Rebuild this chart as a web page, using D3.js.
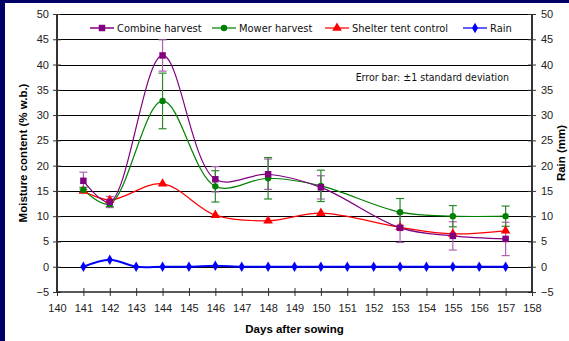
<!DOCTYPE html>
<html><head><meta charset="utf-8">
<script src="https://cdn.jsdelivr.net/npm/d3@7"></script>
<style>body{margin:0;background:#000066;} svg{display:block;}</style>
</head><body>
<svg id="c" width="569" height="341"></svg>
<script>
const harvestDays = [141,142,144,146,148,150,153,155,157];
const combine = [17.0,12.8,41.8,17.3,18.3,15.7,7.7,6.1,5.5];
const combineSD = [1.7,1.1,3.1,2.5,3.0,2.3,2.9,2.8,3.3];
const mower = [15.2,12.4,32.8,15.9,17.5,16.0,10.8,10.0,10.0];
const mowerSD = [0.5,0.5,5.5,3.1,4.1,3.1,2.7,2.1,2.0];
const shelter = [15.0,13.2,16.4,10.2,9.1,10.6,7.8,6.5,7.1];
const rainDays = [141,142,143,144,145,146,147,148,149,150,151,152,153,154,155,156,157];
const rain = [0,1.4,0,0,0,0.2,0,0,0,0,0,0,0,0,0,0,0];
const yTicks = [-5,0,5,10,15,20,25,30,35,40,45,50];
const xTicks = [140,141,142,143,144,145,146,147,148,149,150,151,152,153,154,155,156,157,158];

const svg = d3.select("#c");
svg.append("rect").attr("x",5).attr("y",3).attr("width",564).attr("height",338).attr("fill","#fff");

const L=57,R=532,T=14,B=292;
const x = d3.scaleLinear().domain([140,158]).range([L,R]);
const y = d3.scaleLinear().domain([-5,50]).range([B,T]);
const y2 = d3.scaleLinear().domain([-5,50]).range([B,T]);

// gridlines
svg.append("g").selectAll("line").data(yTicks.filter(d=>d>-5)).join("line")
  .attr("x1",L).attr("x2",R).attr("y1",d=>Math.round(y(d))+0.5).attr("y2",d=>Math.round(y(d))+0.5)
  .attr("stroke","#000").attr("stroke-width",1);

const tickFont = "'Liberation Sans', Arial, sans-serif";
// left axis
const gl = svg.append("g").attr("transform",`translate(${L},0)`)
  .call(d3.axisLeft(y).tickValues(yTicks).tickSize(4).tickPadding(4));
gl.select(".domain").remove();
gl.append("line").attr("x1",0).attr("x2",0).attr("y1",T).attr("y2",B).attr("stroke","#333").attr("stroke-width",2);
gl.selectAll(".tick line").attr("x1",-4).attr("x2",4).attr("stroke","#333");
gl.selectAll("text").attr("font-family",tickFont).attr("font-size",11).attr("fill","#222");

// right axis
const gr = svg.append("g").attr("transform",`translate(${R},0)`)
  .call(d3.axisRight(y2).tickValues(yTicks).tickSize(4).tickPadding(5));
gr.select(".domain").remove();
gr.append("line").attr("x1",0).attr("x2",0).attr("y1",T).attr("y2",B).attr("stroke","#333").attr("stroke-width",2);
gr.selectAll(".tick line").attr("x1",-4).attr("x2",4).attr("stroke","#333");
gr.selectAll("text").attr("font-family",tickFont).attr("font-size",11).attr("fill","#222");

// bottom axis
const gb = svg.append("g").attr("transform",`translate(0,${B})`)
  .call(d3.axisBottom(x).tickValues(xTicks).tickFormat(d3.format("d")).tickSize(4).tickPadding(8));
gb.select(".domain").remove();
gb.append("line").attr("x1",L).attr("x2",R).attr("y1",0).attr("y2",0).attr("stroke","#222").attr("stroke-width",1.5);
gb.selectAll(".tick line").attr("y1",-4).attr("y2",4).attr("stroke","#333");
gb.selectAll("text").attr("font-family",tickFont).attr("font-size",11).attr("fill","#222");

// axis titles
svg.append("text").attr("transform",`translate(27,${(T+B)/2}) rotate(-90)`).attr("text-anchor","middle")
  .attr("font-family",tickFont).attr("font-weight","bold").attr("font-size",11.5).text("Moisture content (% w.b.)");
svg.append("text").attr("transform",`translate(565,${(T+B)/2}) rotate(-90)`).attr("text-anchor","middle")
  .attr("font-family",tickFont).attr("font-weight","bold").attr("font-size",11.5).text("Rain (mm)");
svg.append("text").attr("x",(L+R)/2).attr("y",333).attr("text-anchor","middle")
  .attr("font-family",tickFont).attr("font-weight","bold").attr("font-size",11.5).text("Days after sowing");

const curve = d3.curveCatmullRom.alpha(0.5);
function errBars(vals, sds, color){
  const g = svg.append("g").attr("stroke",color).attr("stroke-width",1.2);
  harvestDays.forEach((d,i)=>{
    const cx = x(d), y1 = y(vals[i]+sds[i]), y0 = y(vals[i]-sds[i]);
    g.append("line").attr("x1",cx).attr("x2",cx).attr("y1",y1).attr("y2",y0);
    g.append("line").attr("x1",cx-4).attr("x2",cx+4).attr("y1",y1).attr("y2",y1);
    g.append("line").attr("x1",cx-4).attr("x2",cx+4).attr("y1",y0).attr("y2",y0);
  });
}
function line(days, vals, color, w, sc){
  svg.append("path").datum(days.map((d,i)=>[d,vals[i]]))
    .attr("fill","none").attr("stroke",color).attr("stroke-width",w)
    .attr("d",d3.line().x(d=>x(d[0])).y(d=>sc(d[1])).curve(curve));
}
const symSq = d3.symbol(d3.symbolSquare, 42);
const symCi = d3.symbol(d3.symbolCircle, 32);
const symTr = d3.symbol(d3.symbolTriangle, 40);
const symDi = d3.symbol(d3.symbolDiamond, 32);
function marks(days, vals, sym, color, sc){
  svg.append("g").selectAll("path").data(days.map((d,i)=>[d,vals[i]])).join("path")
    .attr("transform",d=>`translate(${x(d[0])},${sc(d[1])})`).attr("d",sym).attr("fill",color);
}

errBars(combine, combineSD, "#b060b0");
errBars(mower, mowerSD, "#2a8a2a");
line(rainDays, rain, "#0000ff", 2, y2);
line(harvestDays, shelter, "#ff0000", 1.2, y);
line(harvestDays, mower, "#008000", 1.2, y);
line(harvestDays, combine, "#800080", 1.2, y);
marks(rainDays, rain, symDi, "#0000ff", y2);
marks(harvestDays, shelter, symTr, "#ff0000", y);
marks(harvestDays, mower, symCi, "#008000", y);
marks(harvestDays, combine, symSq, "#800080", y);

// legend
const legFont = "'DejaVu Sans Condensed','DejaVu Sans',Verdana,sans-serif";
const legend = [
  {name:"Combine harvest", color:"#800080", lc:"#a040a0", sym:symSq, x0:90},
  {name:"Mower harvest", color:"#008000", lc:"#60b060", sym:symCi, x0:212},
  {name:"Shelter tent control", color:"#ff0000", lc:"#ff6060", sym:symTr, x0:325},
  {name:"Rain", color:"#0000ff", lc:"#6060ff", sym:symDi, x0:463}
];
const ly = 28;
const lg = svg.append("g");
legend.forEach(e=>{
  lg.append("line").attr("x1",e.x0).attr("x2",e.x0+24).attr("y1",ly).attr("y2",ly).attr("stroke",e.lc).attr("stroke-width",2);
  lg.append("path").attr("transform",`translate(${e.x0+12},${ly})`).attr("d",e.sym).attr("fill",e.color);
  lg.append("text").attr("x",e.x0+27).attr("y",ly+4).attr("font-family",legFont).attr("font-size",11).attr("fill","#111").text(e.name);
});
svg.append("text").attr("x",509).attr("y",81).attr("text-anchor","end").attr("font-family",legFont)
  .attr("font-size",10.5).attr("fill","#111").text("Error bar: ±1 standard deviation");
</script>
</body></html>
